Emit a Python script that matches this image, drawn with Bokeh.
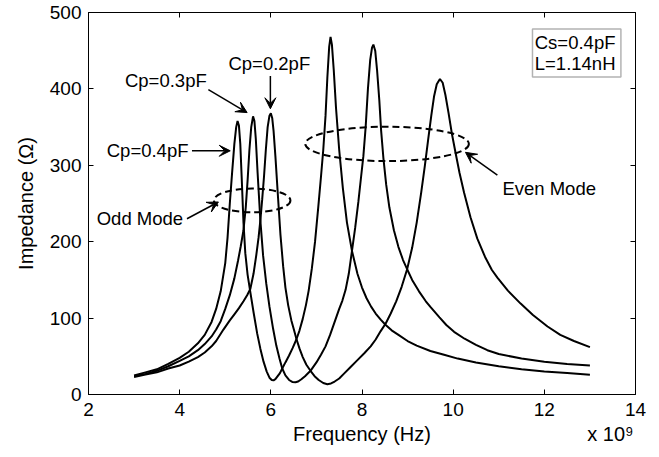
from bokeh.plotting import figure
from bokeh.models import LinearAxis, Label, Arrow, VeeHead, BoxAnnotation, FixedTicker
from bokeh.embed import file_html
from bokeh.resources import INLINE

# ---- data (frequency in units of 1e9 Hz, impedance in ohm) ----
freq_cp04 = [3.0, 3.25, 3.5, 3.75, 4.0, 4.2, 4.4, 4.55, 4.7, 4.8, 4.9, 5.0, 5.05, 5.1, 5.15,
             5.2, 5.24, 5.27, 5.30, 5.33, 5.36, 5.40, 5.44, 5.49, 5.55, 5.62, 5.7, 5.77, 5.84,
             5.91, 5.97, 6.02, 6.06, 6.1, 6.15, 6.2, 6.25, 6.32, 6.4, 6.48, 6.56, 6.63, 6.7,
             6.77, 6.83, 6.9, 6.97, 7.04, 7.1, 7.15, 7.2, 7.24, 7.28, 7.31, 7.34, 7.38, 7.43,
             7.5, 7.58, 7.67, 7.78, 7.9, 8.0, 8.1, 8.2, 8.3, 8.41, 8.52, 8.65, 8.8, 9.0, 9.2,
             9.5, 9.8, 10.1, 10.5, 11.0, 11.5, 12.0, 12.5, 13.0]
imp_cp04 = [25, 29, 33, 40, 48, 56, 67, 78, 95, 112, 135, 172, 205, 250, 290,
            328, 350, 358, 352, 328, 285, 225, 185, 157, 134, 108, 80, 60, 43,
            30, 22, 19, 18.5, 20, 24, 28, 34, 42, 51, 61, 72, 84, 99,
            117, 136, 165, 200, 245, 285, 320, 365, 415, 455, 468, 458, 425, 375,
            320, 270, 225, 188, 158, 140, 126, 115, 106, 98, 91, 84, 78, 70, 64,
            57, 52, 47, 42, 37, 33, 30, 28, 26]

freq_cp03 = [3.0, 3.25, 3.5, 3.75, 4.0, 4.2, 4.4, 4.55, 4.7, 4.8, 4.9, 5.0, 5.1, 5.2, 5.28,
             5.34, 5.40, 5.45, 5.49, 5.53, 5.57, 5.61, 5.64, 5.67, 5.71, 5.77, 5.83, 5.9, 5.97,
             6.05, 6.12, 6.19, 6.25, 6.32, 6.4, 6.47, 6.54, 6.6, 6.67, 6.75, 6.87, 7.0, 7.1,
             7.2, 7.3, 7.4, 7.5, 7.57, 7.64, 7.71, 7.78, 7.85, 7.92, 7.98, 8.03, 8.08, 8.13,
             8.18, 8.22, 8.25, 8.29, 8.33, 8.38, 8.42, 8.47, 8.53, 8.6, 8.7, 8.8, 8.9, 8.99,
             9.1, 9.25, 9.4, 9.51, 9.7, 9.85, 10.02, 10.25, 10.5, 10.75, 11.0, 11.5, 12.0,
             12.5, 13.0]
imp_cp03 = [24, 27, 31, 37, 44, 50, 58, 66, 76, 85, 96, 112, 130, 152, 175,
            194, 215, 245, 280, 320, 350, 364, 358, 335, 290, 228, 182, 145, 115,
            86, 64, 47, 34, 25, 19, 16.5, 16, 17, 20, 24, 31, 42, 52,
            63, 78, 95, 112, 123, 137, 158, 188, 218, 252, 285, 312, 350, 400,
            438, 454, 458, 450, 425, 385, 345, 309, 275, 245, 215, 193, 176, 164,
            150, 135, 122, 114, 101, 91, 82, 73, 65, 58, 53, 47, 43,
            40, 38]

freq_cp02 = [3.0, 3.25, 3.5, 3.75, 4.0, 4.2, 4.4, 4.55, 4.7, 4.8, 4.96, 5.1, 5.2, 5.3, 5.4,
             5.48, 5.55, 5.62, 5.68, 5.73, 5.77, 5.81, 5.85, 5.89, 5.93, 5.97, 6.00, 6.03, 6.06,
             6.1, 6.15, 6.21, 6.27, 6.32, 6.38, 6.45, 6.51, 6.56, 6.63, 6.7, 6.78, 6.87, 6.96,
             7.05, 7.15, 7.24, 7.32, 7.4, 7.5, 7.6, 7.75, 7.9, 8.05, 8.19, 8.3, 8.41, 8.52,
             8.63, 8.75, 8.87, 8.99, 9.1, 9.2, 9.3, 9.38, 9.45, 9.52, 9.58, 9.64, 9.71, 9.77,
             9.83, 9.9, 9.97, 10.05, 10.14, 10.24, 10.38, 10.53, 10.7, 10.85, 10.97, 11.2,
             11.48, 11.75, 12.07, 12.35, 12.65, 13.0]
imp_cp02 = [23, 26, 29, 34, 38, 43, 49, 55, 63, 70, 85, 97, 105, 113, 122,
            130, 138, 158, 182, 205, 228, 255, 285, 320, 350, 365, 368, 362, 345,
            312, 265, 210, 168, 140, 117, 97, 84, 73, 60, 49, 39, 31, 24,
            19, 15, 13.5, 14.5, 17, 21, 27, 36, 45, 54, 63, 72, 83, 93,
            106, 122, 141, 164, 192, 225, 265, 300, 333, 365, 390, 406, 413, 408,
            392, 368, 342, 317, 290, 264, 232, 204, 180, 163, 153, 136,
            119, 104, 89, 78, 70, 62]

x_ticks = [2, 4, 6, 8, 10, 12, 14]
y_ticks = [0, 100, 200, 300, 400, 500]

FONT = "Liberation Sans"

p = figure(width=659, height=457, x_range=(2, 14), y_range=(0, 500),
           output_backend="svg", toolbar_location=None,
           min_border_left=88, min_border_right=24, min_border_top=12, min_border_bottom=63)
p.background_fill_color = "white"
p.border_fill_color = "white"
p.grid.visible = False
p.outline_line_color = "black"
p.outline_line_width = 1

for ax in (p.xaxis[0], p.yaxis[0]):
    ax.major_tick_in = 5
    ax.major_tick_out = 0
    ax.minor_tick_line_color = None
    ax.axis_line_color = "black"
    ax.major_tick_line_color = "black"
    ax.major_label_text_font = FONT
    ax.major_label_text_font_size = "19px"
    ax.major_label_text_color = "black"
    ax.axis_label_text_font = FONT
    ax.axis_label_text_font_size = "20px"
    ax.axis_label_text_font_style = "normal"
    ax.axis_label_text_color = "black"

p.xaxis.ticker = FixedTicker(ticks=x_ticks)
p.yaxis.ticker = FixedTicker(ticks=y_ticks)
p.yaxis.axis_label = "Impedance (\u03a9)"
p.xaxis.major_label_standoff = 8
p.yaxis.major_label_standoff = 7
p.yaxis.axis_label_standoff = 10

# second bottom axis carrying the x label and the exponent note on one line
xlabel_pos = 8
exp_pos = 13.45
label_ax = LinearAxis(ticker=FixedTicker(ticks=[xlabel_pos, exp_pos]),
                      major_label_overrides={xlabel_pos: "Frequency (Hz)", exp_pos: "x 10\u2079"},
                      major_tick_in=0, major_tick_out=0, axis_line_color=None,
                      minor_tick_line_color=None, major_tick_line_color=None,
                      major_label_standoff=4, major_label_text_font=FONT,
                      major_label_text_font_size="20px", major_label_text_color="black")
p.add_layout(label_ax, "below")

top_ax = LinearAxis(ticker=FixedTicker(ticks=x_ticks),
                    major_label_overrides={t: "" for t in x_ticks},
                    major_label_text_font_size="2px",
                    major_tick_in=5, major_tick_out=0, axis_line_color=None,
                    minor_tick_line_color=None, major_label_standoff=0)
right_ax = LinearAxis(ticker=FixedTicker(ticks=y_ticks),
                      major_label_overrides={t: "" for t in y_ticks},
                      major_label_text_font_size="2px",
                      major_tick_in=5, major_tick_out=0, axis_line_color=None,
                      minor_tick_line_color=None, major_label_standoff=0)
p.add_layout(top_ax, "above")
p.add_layout(right_ax, "right")

for fx, zy in ((freq_cp04, imp_cp04), (freq_cp03, imp_cp03), (freq_cp02, imp_cp02)):
    assert len(fx) == len(zy)
    p.line(fx, zy, line_color="black", line_width=2)

# dashed ellipses marking the modes
p.ellipse(x=[5.59], y=[254], width=1.68, height=31, fill_color=None,
          line_color="black", line_width=2, line_dash="7 4")
p.ellipse(x=[8.55], y=[328], width=3.59, height=45, fill_color=None,
          line_color="black", line_width=2, line_dash="7 4")

def label(x, y, t, size="18.5px", align="left"):
    p.add_layout(Label(x=x, y=y, text=t, text_font=FONT, text_font_size=size,
                       text_baseline="middle", text_align=align, text_color="black"))

def arrow(x0, y0, x1, y1):
    p.add_layout(Arrow(end=VeeHead(size=11, fill_color="black", line_color="black", line_width=1),
                       x_start=x0, y_start=y0, x_end=x1, y_end=y1,
                       line_color="black", line_width=1.5))

label(2.40, 319, "Cp=0.4pF")
arrow(4.27, 319, 5.11, 319)
label(2.80, 411, "Cp=0.3pF")
arrow(4.63, 399, 5.48, 369)
label(5.07, 433, "Cp=0.2pF")
arrow(5.99, 417, 5.99, 374)
label(2.18, 230, "Odd Mode")
arrow(4.16, 230, 4.85, 252)
label(11.08, 269, "Even Mode")
arrow(10.97, 287, 10.27, 317)

p.add_layout(BoxAnnotation(left=11.74, right=13.68, bottom=415.5, top=478.5,
                           fill_color=None, line_color="black", line_width=1.5))
label(11.79, 461, "Cs=0.4pF")
label(11.79, 433, "L=1.14nH")

open("out.html", "w").write(file_html(p, INLINE))
